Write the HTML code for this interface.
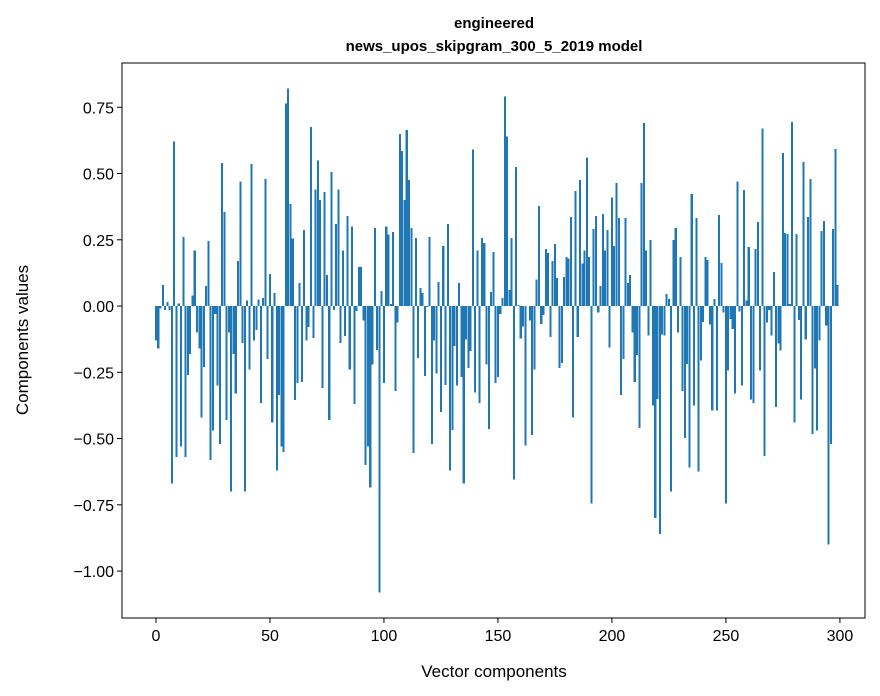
<!DOCTYPE html>
<html><head><meta charset="utf-8"><style>
body{margin:0;background:#fff;}
svg{display:block;font-family:"Liberation Sans","DejaVu Sans",sans-serif;}
</style></head><body>
<svg id="chart" width="880" height="696" viewBox="0 0 880 696" xmlns="http://www.w3.org/2000/svg">
<rect width="880" height="696" fill="#fff"/>
<text x="494" y="28" text-anchor="middle" font-size="15" font-weight="bold">engineered</text>
<text x="494" y="51" text-anchor="middle" font-size="15" font-weight="bold">news_upos_skipgram_300_5_2019 model</text>
<g id="bars" shape-rendering="crispEdges"></g>
<g id="xticks"></g>
<g id="yticks"></g>
<rect x="122" y="63" width="743" height="555" fill="none" stroke="#000" stroke-width="1"/>
<text x="494" y="677" text-anchor="middle" font-size="17">Vector components</text>
<text transform="translate(28,340) rotate(-90)" text-anchor="middle" font-size="17">Components values</text>
</svg>
<script>
const values = [-0.13,-0.16,-0.01,0.08,-0.015,0.015,-0.015,-0.67,0.62,-0.57,
0.01,-0.53,0.26,-0.57,-0.26,-0.18,0.04,0.21,-0.10,-0.16,
-0.42,-0.23,0.075,0.245,-0.58,-0.47,-0.03,-0.30,-0.52,0.54,
0.355,-0.43,-0.10,-0.70,-0.18,-0.33,0.17,0.47,-0.14,-0.70,
0.02,-0.24,0.535,-0.13,-0.09,0.025,-0.365,0.03,0.48,-0.20,
0.12,-0.44,0.05,-0.62,-0.335,-0.53,-0.55,0.765,0.82,0.385,
0.255,-0.355,-0.29,0.087,-0.287,0.287,-0.13,-0.08,0.675,-0.12,
0.44,0.55,0.40,-0.31,0.43,0.117,-0.43,0.505,-0.015,0.31,
0.44,-0.14,0.21,-0.113,0.34,-0.24,0.30,-0.37,-0.018,0.147,
0.147,-0.055,-0.60,-0.53,-0.685,-0.22,0.295,-0.165,-1.08,0.057,
-0.29,0.30,0.27,0.008,0.28,-0.32,-0.063,0.65,0.585,0.40,
0.665,0.475,0.295,-0.555,0.257,-0.196,0.068,0.05,-0.263,-0.004,
0.26,-0.52,-0.13,-0.255,0.09,-0.40,0.226,-0.297,0.31,-0.62,
-0.467,-0.15,-0.30,0.087,-0.267,-0.67,-0.127,-0.233,-0.17,0.59,
-0.327,0.21,-0.365,0.257,0.238,-0.22,-0.463,0.053,0.204,-0.29,
-0.267,-0.03,0.03,0.79,0.64,0.06,0.257,-0.655,0.525,0.004,
-0.123,-0.078,-0.527,0.0,-0.055,-0.486,-0.24,0.10,0.377,-0.067,
-0.033,0.215,0.20,-0.116,0.17,0.234,0.106,-0.233,-0.214,0.11,
0.185,0.18,0.336,-0.42,0.434,-0.116,0.475,0.16,0.21,0.56,
0.185,-0.745,0.29,0.34,-0.025,0.075,0.347,0.21,0.287,-0.157,
0.41,0.226,0.464,0.332,-0.335,-0.20,0.332,0.087,0.117,-0.10,
-0.286,-0.184,-0.46,0.464,0.69,0.21,-0.112,0.25,-0.376,-0.80,
-0.35,-0.86,-0.108,-0.112,0.045,0.026,-0.70,0.25,0.295,-0.10,
0.185,-0.32,-0.497,-0.218,-0.61,0.423,-0.376,0.332,-0.625,-0.206,
-0.06,0.185,0.174,-0.07,-0.395,0.026,-0.395,0.343,0.162,-0.025,
-0.745,-0.244,-0.048,-0.086,-0.33,0.47,-0.02,-0.30,0.437,0.02,
0.223,-0.353,-0.365,0.215,0.317,-0.244,0.67,-0.565,-0.063,-0.014,
-0.112,0.128,-0.38,-0.142,-0.168,0.577,0.275,0.272,0.008,0.694,
-0.44,0.272,-0.052,-0.353,0.543,-0.127,0.336,0.48,-0.482,-0.236,
-0.47,-0.13,0.283,0.32,-0.074,-0.90,-0.52,0.29,0.592,0.08];
const xTicks = [0,50,100,150,200,250,300];
const yTicks = [0.75,0.5,0.25,0,-0.25,-0.5,-0.75,-1.0];
const yTickLabels = ["0.75","0.50","0.25","0.00","\u22120.25","\u22120.50","\u22120.75","\u22121.00"];

const NS = "http://www.w3.org/2000/svg";
const X0 = 122, X1 = 865, Y0 = 63, Y1 = 618;
const xMin = -14.9, xMax = 311.0, yMin = -1.177, yMax = 0.917;
function xs(v){ return X0 + (v - xMin) / (xMax - xMin) * (X1 - X0); }
function ys(v){ return Y1 - (v - yMin) / (yMax - yMin) * (Y1 - Y0); }

const gb = document.getElementById('bars');
values.forEach((v, i) => {
  const r = document.createElementNS(NS, 'rect');
  
  
  const x = xs(i - 0.45), w = xs(i + 0.45) - x;
  const y = Math.min(ys(v), ys(0)), h = Math.abs(ys(v) - ys(0));
  r.setAttribute('x', x); r.setAttribute('y', y);
  r.setAttribute('width', w); r.setAttribute('height', h);
  r.setAttribute('fill', '#1f77b4');
  gb.appendChild(r);
});

const gx = document.getElementById('xticks');
xTicks.forEach(t => {
  const x = xs(t);
  const l = document.createElementNS(NS, 'line');
  
  
  l.setAttribute('x1', x); l.setAttribute('x2', x);
  l.setAttribute('y1', Y1); l.setAttribute('y2', Y1 + 5);
  l.setAttribute('stroke', '#000');
  gx.appendChild(l);
  const tx = document.createElementNS(NS, 'text');
  
  
  tx.setAttribute('x', x); tx.setAttribute('y', Y1 + 23);
  tx.setAttribute('text-anchor', 'middle'); tx.setAttribute('font-size', '16');
  tx.textContent = String(t);
  gx.appendChild(tx);
});

const gy = document.getElementById('yticks');
yTicks.forEach((t, k) => {
  const y = ys(t);
  const l = document.createElementNS(NS, 'line');
  
  
  l.setAttribute('x1', X0 - 5); l.setAttribute('x2', X0);
  l.setAttribute('y1', y); l.setAttribute('y2', y);
  l.setAttribute('stroke', '#000');
  gy.appendChild(l);
  const tx = document.createElementNS(NS, 'text');
  
  
  tx.setAttribute('x', X0 - 8); tx.setAttribute('y', y + 6);
  tx.setAttribute('text-anchor', 'end'); tx.setAttribute('font-size', '16');
  tx.textContent = yTickLabels[k];
  gy.appendChild(tx);
});
</script>
</body></html>
